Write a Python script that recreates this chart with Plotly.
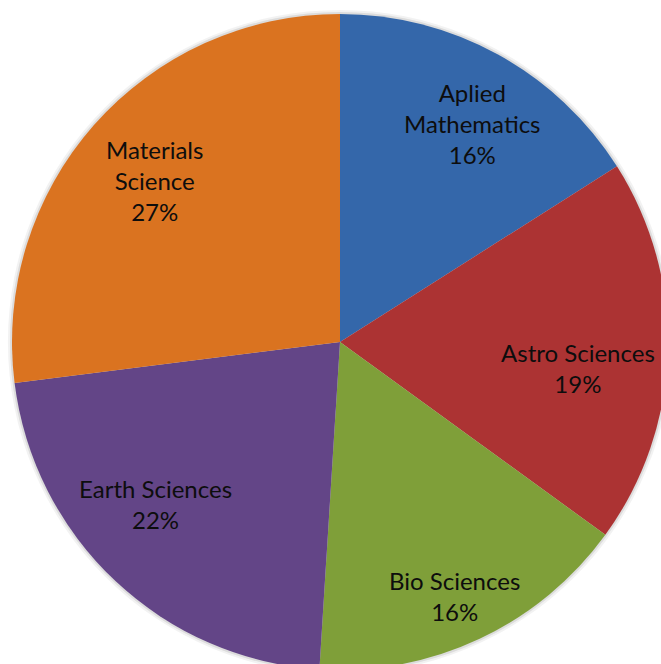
import math
import plotly.graph_objects as go

# Share of research projects by field
fields = ["Aplied<br>Mathematics", "Astro Sciences", "Bio Sciences",
          "Earth Sciences", "Materials<br>Science"]
shares = [16, 19, 16, 22, 27]
colors = ["#3467AA", "#AC3333", "#7F9F39", "#634587", "#DA7320"]

# label placement inside each slice: fraction of radius, angular nudge (deg)
label_radius = [0.78, 0.73, 0.85, 0.75, 0.75]
label_nudge = [2.5, 4.5, 1.0, 5.5, -0.5]

W, H = 682, 684          # canvas slightly larger than the window; edge is clipped
CX, CY, R = 340, 342, 328  # pie centre and radius in pixels


def pie_domain(r):
    return dict(x=[(CX - r) / W, (CX + r) / W],
                y=[(H - CY - r) / H, (H - CY + r) / H])


fig = go.Figure()

# soft drop shadow under the disc
for extra, alpha in [(4, 0.05), (2, 0.09)]:
    fig.add_trace(go.Pie(
        values=[1], labels=["shadow"], sort=False,
        marker=dict(colors=[f"rgba(0,0,0,{alpha})"], line=dict(width=0)),
        textinfo="none", hoverinfo="skip",
        domain=pie_domain(R + extra),
    ))

fig.add_trace(go.Pie(
    labels=fields,
    values=shares,
    sort=False,
    direction="clockwise",
    rotation=0,
    marker=dict(colors=colors, line=dict(width=0)),
    textinfo="none",
    hoverinfo="label+percent",
    domain=pie_domain(R),
))

# slice labels: name and share, at the slice's middle angle
total = sum(shares)
cum = 0
for name, v, rf, nudge in zip(fields, shares, label_radius, label_nudge):
    theta = math.radians((cum + v / 2) / total * 360 + nudge)
    cum += v
    px = CX + rf * R * math.sin(theta)
    py = CY - rf * R * math.cos(theta)
    fig.add_annotation(
        x=px / W, y=1 - py / H, xref="paper", yref="paper",
        text=f"{name}<br>{v}%", showarrow=False,
        xanchor="center", yanchor="middle", align="center",
        font=dict(family="Lato", size=24, color="#0d0d0d"),
    )

fig.update_layout(
    width=W,
    height=H,
    margin=dict(l=0, r=0, t=0, b=0),
    showlegend=False,
    paper_bgcolor="white",
    plot_bgcolor="white",
)

fig.write_html(
    "out.html",
    post_script="document.documentElement.style.overflow='hidden';"
                "document.body.style.overflow='hidden';"
                "document.body.style.margin='0';",
)
